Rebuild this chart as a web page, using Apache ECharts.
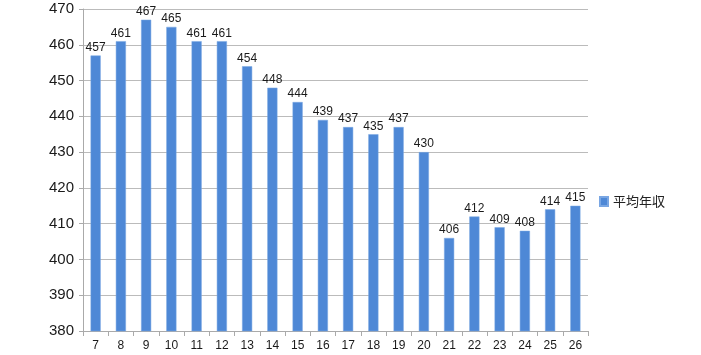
<!DOCTYPE html>
<html>
<head>
<meta charset="utf-8">
<script src="https://cdn.jsdelivr.net/npm/echarts@6/dist/echarts.min.js"></script>
<style>
html, body { margin: 0; padding: 0; background: #fff; }
#main { width: 701px; height: 355px; }
</style>
</head>
<body>
<div id="main"></div>
<script>
// 年度（平成）ごとの平均年収
const categories = ["7","8","9","10","11","12","13","14","15","16","17","18","19","20","21","22","23","24","25","26"];
const incomes = [457,461,467,465,461,461,454,448,444,439,437,435,437,430,406,412,409,408,414,415];
const seriesName = "平均年収";

let chart = echarts.init(document.getElementById("main"));
chart.setOption({
    animation: false,
    textStyle: { fontFamily: "Liberation Sans, Noto Sans CJK JP, sans-serif" },
    grid: { left: 83, right: 113, top: 9, bottom: 24 },
    legend: {
        data: [seriesName],
        orient: "vertical",
        left: 594,
        top: 190,
        itemWidth: 8,
        itemHeight: 9,
        itemGap: 4,
        icon: "rect",
        textStyle: { fontSize: 13, color: "#222", fontFamily: "Noto Sans CJK JP" }
    },
    xAxis: {
        type: "category",
        data: categories,
        axisLine: { lineStyle: { color: "#aaa" } },
        axisTick: { show: true, alignWithLabel: false, length: 5, lineStyle: { color: "#aaa" } },
        axisLabel: { color: "#1a1a1a", fontSize: 12, margin: 9 }
    },
    yAxis: {
        type: "value",
        min: 380,
        max: 470,
        interval: 10,
        axisLine: { show: true, lineStyle: { color: "#aaa" } },
        axisTick: { show: true, length: 4, lineStyle: { color: "#aaa" } },
        axisLabel: { color: "#1a1a1a", fontSize: 15, margin: 9 },
        splitLine: { lineStyle: { color: "#bbb" } }
    },
    series: [{
        name: seriesName,
        type: "bar",
        data: incomes,
        barWidth: "40%",
        itemStyle: { color: "#4e88d6", borderColor: "#79a6e3", borderWidth: 0.5 },
        label: { show: true, position: "top", distance: 2, color: "#1a1a1a", fontSize: 12 }
    }]
});
</script>
</body>
</html>
